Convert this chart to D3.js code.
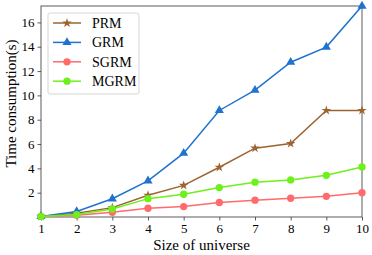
<!DOCTYPE html>
<html>
<head>
<meta charset="utf-8">
<script src="https://cdn.jsdelivr.net/npm/d3@7"></script>
<style>
  body { margin: 0; background: #fff; }
  svg text { font-family: "Liberation Serif", "Times New Roman", serif; fill: #000; }
</style>
</head>
<body>
<div id="chart-area"></div>
<script>
// Data
var sizes = [1, 2, 3, 4, 5, 6, 7, 8, 9, 10];
var prm  = [0.05, 0.3, 0.77, 1.79, 2.6, 4.09, 5.66, 6.04, 8.76, 8.76];
var grm  = [0.05, 0.45, 1.5, 2.97, 5.25, 8.76, 10.43, 12.73, 13.97, 17.35];
var sgrm = [0.05, 0.15, 0.39, 0.72, 0.86, 1.19, 1.38, 1.54, 1.7, 2.0];
var mgrm = [0.05, 0.2, 0.66, 1.51, 1.87, 2.42, 2.86, 3.05, 3.43, 4.12];
var yTicks = [2, 4, 6, 8, 10, 12, 14, 16];
var seriesNames = ["PRM", "GRM", "SGRM", "MGRM"];

var series = [
    { name: "PRM", values: prm, color: "#9b6431", marker: "star" },
    { name: "GRM", values: grm, color: "#1f72cf", marker: "triangle" },
    { name: "SGRM", values: sgrm, color: "#ff6b6b", marker: "circle" },
    { name: "MGRM", values: mgrm, color: "#6ef01a", marker: "circle" }
];

// Margin
var margin = { top: 6, right: 10, bottom: 38, left: 41 };
var width = 372 - margin.left - margin.right;
var height = 255 - margin.top - margin.bottom;

var svg = d3.select("#chart-area")
    .append("svg")
    .attr("width", 372)
    .attr("height", 255);

var g = svg.append("g")
    .attr("transform", "translate(" + margin.left + ", " + margin.top + ")");

// Scales
var x = d3.scaleLinear().domain([1, 10]).range([0, width]);
var y = d3.scaleLinear().domain([0, 17.35]).range([height, 0]);

// Axes
var xAxis = g.append("g")
    .attr("transform", "translate(0, " + height + ")")
    .call(d3.axisBottom(x).tickValues(sizes).tickFormat(d3.format("d")).tickSize(3.5).tickPadding(3));
var yAxis = g.append("g")
    .call(d3.axisLeft(y).tickValues(yTicks).tickSize(3.5).tickPadding(3));

[xAxis, yAxis].forEach(function (a) {
    a.select(".domain").remove();
    a.selectAll("line").attr("stroke", "#333").attr("stroke-width", 0.8);
    a.selectAll("text").attr("font-size", "13px").style("font-family", "Liberation Serif, serif");
});

// Frame
g.append("rect")
    .attr("width", width)
    .attr("height", height)
    .attr("fill", "none")
    .attr("stroke", "#333")
    .attr("stroke-width", 0.8);

// Labels
g.append("text")
    .attr("x", width / 2)
    .attr("y", height + 33)
    .attr("text-anchor", "middle")
    .attr("font-size", "15px")
    .text("Size of universe");

g.append("text")
    .attr("transform", "rotate(-90)")
    .attr("x", -height / 2 + 8)
    .attr("y", -25)
    .attr("text-anchor", "middle")
    .attr("font-size", "15px")
    .text("Time consumption(s)");

// Markers
var star = d3.symbol().type(d3.symbolStar).size(28);
var tri = d3.symbol().type(d3.symbolTriangle).size(36);
var circ = d3.symbol().type(d3.symbolCircle).size(42);
function markerPath(m) {
    if (m === "star") return star();
    if (m === "triangle") return tri();
    return circ();
}

var line = d3.line()
    .x(function (d, i) { return x(sizes[i]); })
    .y(function (d) { return y(d); });

var plot = g.append("g");
series.forEach(function (s) {
    plot.append("path")
        .datum(s.values)
        .attr("fill", "none")
        .attr("stroke", s.color)
        .attr("stroke-width", 1.5)
        .attr("d", line);
    plot.selectAll(null)
        .data(s.values)
        .enter()
        .append("path")
        .attr("d", markerPath(s.marker))
        .attr("transform", function (d, i) { return "translate(" + x(sizes[i]) + "," + y(d) + ")"; })
        .attr("fill", s.color);
});

// Legend
var legend = g.append("g").attr("transform", "translate(7, 7)");
legend.append("rect")
    .attr("width", 91)
    .attr("height", 81)
    .attr("rx", 2)
    .attr("fill", "#fff")
    .attr("fill-opacity", 0.8)
    .attr("stroke", "#ccc")
    .attr("stroke-width", 0.8);

series.forEach(function (s, i) {
    var ly = 10 + i * 19.4;
    legend.append("line")
        .attr("x1", 5).attr("x2", 33)
        .attr("y1", ly).attr("y2", ly)
        .attr("stroke", s.color)
        .attr("stroke-width", 1.5);
    legend.append("path")
        .attr("d", markerPath(s.marker))
        .attr("transform", "translate(19," + ly + ")")
        .attr("fill", s.color);
    legend.append("text")
        .attr("x", 44)
        .attr("y", ly + 5)
        .attr("font-size", "14px")
        .text(seriesNames[i]);
});
</script>
</body>
</html>
